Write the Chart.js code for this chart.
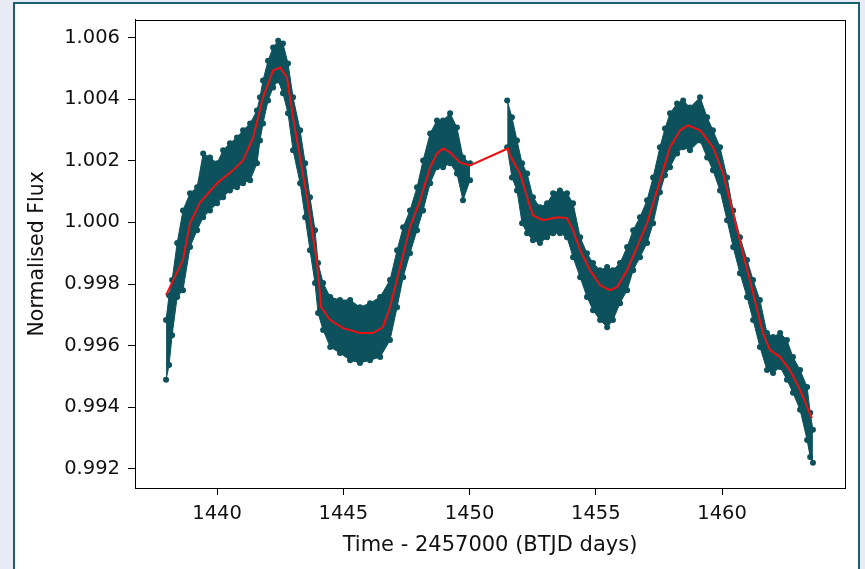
<!DOCTYPE html>
<html>
<head>
<meta charset="utf-8">
<script src="https://cdn.jsdelivr.net/npm/chart.js@4"></script>
<style>
    html, body { margin: 0; padding: 0; background: #e8ebf6; }
    body { width: 865px; height: 569px; position: relative; overflow: hidden; }
    #panel {
        position: absolute; left: 13px; top: 2px; width: 843px; height: 580px;
        background: #ffffff; border: 2px solid #17606e;
    }
    #wrap { position: absolute; left: 0; top: 0; width: 865px; height: 569px; }
</style>
</head>
<body>
<div id="panel"></div>
<div id="wrap"><canvas id="chart" width="865" height="569"></canvas></div>
<script>
const bandTime = [
    1437.98, 1438.10, 1438.22, 1438.42, 1438.65, 1438.93, 1439.21, 1439.45, 1439.72, 1440.00,
    1440.24, 1440.51, 1440.79, 1441.03, 1441.31, 1441.58, 1441.70, 1441.82, 1442.02, 1442.22,
    1442.42, 1442.61, 1442.81, 1443.01, 1443.29, 1443.49, 1443.68, 1443.88, 1444.00, 1444.20,
    1444.48, 1444.87, 1445.27, 1445.66, 1446.06, 1446.46, 1446.85, 1447.13, 1447.37, 1447.64,
    1447.92, 1448.16, 1448.44, 1448.71, 1448.95, 1449.23, 1449.50, 1449.74, 1450.02,
    1451.49, 1451.68, 1451.88, 1452.08, 1452.28, 1452.51, 1452.79, 1453.07, 1453.31, 1453.58,
    1453.86, 1454.10, 1454.38, 1454.65, 1454.89, 1455.17, 1455.45, 1455.68, 1455.96, 1456.24,
    1456.48, 1456.75, 1457.03, 1457.27, 1457.54, 1457.74, 1457.94, 1458.22, 1458.46, 1458.73,
    1459.13, 1459.41, 1459.64, 1459.92, 1460.20, 1460.44, 1460.71, 1460.99, 1461.23, 1461.50,
    1461.78, 1462.02, 1462.30, 1462.57, 1462.81, 1463.09, 1463.37, 1463.49, 1463.60
];
const bandHigh = [
    0.99683, 0.99764, 0.99813, 0.99933, 1.00039, 1.00095, 1.00114, 1.00224, 1.00211, 1.00192,
    1.00234, 1.00257, 1.00276, 1.00299, 1.00321, 1.00363, 1.00406, 1.00461, 1.00525, 1.00568,
    1.00590, 1.00581, 1.00516, 1.00406, 1.00299, 1.00192, 1.00082, 0.99975, 0.99868, 0.99803,
    0.99758, 0.99748, 0.99748, 0.99725, 0.99738, 0.99758, 0.99813, 0.99910, 0.99984, 1.00039,
    1.00114, 1.00201, 1.00289, 1.00331, 1.00331, 1.00354, 1.00308, 1.00211, 1.00192,
    1.00396, 1.00341, 1.00266, 1.00192, 1.00159, 1.00082, 1.00049, 1.00062, 1.00095, 1.00104,
    1.00095, 1.00062, 0.99952, 0.99900, 0.99868, 0.99845, 0.99855, 0.99845, 0.99868, 0.99920,
    0.99975, 1.00017, 1.00072, 1.00146, 1.00244, 1.00305, 1.00354, 1.00386, 1.00396, 1.00373,
    1.00406, 1.00341, 1.00299, 1.00244, 1.00146, 1.00039, 0.99952, 0.99878, 0.99813, 0.99748,
    0.99641, 0.99628, 0.99641, 0.99618, 0.99563, 0.99521, 0.99466, 0.99382, 0.99327
];
const bandLow = [
    0.99489, 0.99537, 0.99634, 0.99758, 0.99780, 0.99920, 0.99975, 1.00017, 1.00039, 1.00062,
    1.00082, 1.00104, 1.00114, 1.00127, 1.00137, 1.00192, 1.00266, 1.00321, 1.00396, 1.00438,
    1.00461, 1.00419, 1.00354, 1.00234, 1.00127, 1.00017, 0.99910, 0.99803, 0.99706, 0.99651,
    0.99596, 0.99576, 0.99553, 0.99544, 0.99553, 0.99563, 0.99618, 0.99725, 0.99822, 0.99900,
    0.99975, 1.00039, 1.00127, 1.00179, 1.00179, 1.00192, 1.00159, 1.00072, 1.00137,
    1.00244, 1.00146, 1.00104, 0.99997, 0.99965, 0.99942, 0.99933, 0.99952, 0.99965, 0.99965,
    0.99952, 0.99887, 0.99822, 0.99758, 0.99715, 0.99683, 0.99660, 0.99683, 0.99738, 0.99780,
    0.99845, 0.99887, 0.99933, 0.99997, 1.00098, 1.00153, 1.00179, 1.00224, 1.00244, 1.00234,
    1.00266, 1.00211, 1.00169, 1.00104, 1.00007, 0.99920, 0.99835, 0.99758, 0.99683, 0.99596,
    0.99521, 0.99511, 0.99531, 0.99489, 0.99447, 0.99392, 0.99294, 0.99239, 0.99220
];

// smoothed trend (red line)
const trendTime = [
    1437.98, 1438.65, 1438.93, 1439.33, 1440.00, 1440.63, 1441.03, 1441.43, 1441.82, 1442.22,
    1442.50, 1442.77, 1443.01, 1443.56, 1443.96, 1444.06, 1444.12, 1444.48, 1444.99, 1445.66,
    1446.18, 1446.57, 1446.85, 1447.25, 1447.64, 1448.04, 1448.44, 1448.71, 1448.95, 1449.23,
    1449.62, 1450.02, 1451.52, 1451.60, 1452.00, 1452.28, 1452.51, 1452.91, 1453.47, 1453.86,
    1454.10, 1454.38, 1454.77, 1455.17, 1455.56, 1455.84, 1456.24, 1456.63, 1457.03, 1457.43,
    1457.94, 1458.34, 1458.65, 1459.13, 1459.64, 1460.04, 1460.44, 1460.83, 1461.23, 1461.62,
    1461.90, 1462.30, 1462.69, 1463.09, 1463.56
];
const trendFlux = [
    0.99764, 0.99878, 0.99997, 1.00065, 1.00127, 1.00169, 1.00201, 1.00276, 1.00406, 1.00493,
    1.00503, 1.00470, 1.00341, 1.00082, 0.99868, 0.99785, 0.99725, 0.99683, 0.99657, 0.99641,
    0.99641, 0.99660, 0.99725, 0.99855, 0.99984, 1.00072, 1.00179, 1.00224, 1.00240, 1.00227,
    1.00195, 1.00185, 1.00240, 1.00218, 1.00159, 1.00082, 1.00023, 1.00007, 1.00017, 1.00014,
    0.99975, 0.99910, 0.99845, 0.99796, 0.99780, 0.99790, 0.99845, 0.99920, 0.99997, 1.00104,
    1.00244, 1.00299, 1.00315, 1.00299, 1.00244, 1.00160, 1.00030, 0.99900, 0.99771, 0.99641,
    0.99586, 0.99563, 0.99520, 0.99456, 0.99365
];

const xTicks = [1440, 1445, 1450, 1455, 1460];
const yTicks = [0.992, 0.994, 0.996, 0.998, 1.000, 1.002, 1.004, 1.006];

const pointColour = "#0c515b";
const tickFont = { family: "DejaVu Sans", size: 19.5 };

// split the band where the observations have a gap
function bandSegments() {
    const segs = [];
    let cur = null;
    for (let i = 0; i < bandTime.length; i++) {
        if (!cur || bandTime[i] - bandTime[i - 1] > 1) {
            cur = { hi: [], lo: [] };
            segs.push(cur);
        }
        cur.hi.push({ x: bandTime[i], y: bandHigh[i] });
        cur.lo.push({ x: bandTime[i], y: bandLow[i] });
    }
    return segs;
}

const datasets = [
    {
        label: "trend",
        data: trendTime.map((t, i) => ({ x: t, y: trendFlux[i] })),
        borderColor: "#ee1111",
        borderWidth: 2,
        pointRadius: 0,
        fill: false,
        order: 0,
    },
];
for (const seg of bandSegments()) {
    const common = {
        borderColor: pointColour,
        backgroundColor: pointColour,
        borderWidth: 1,
        pointRadius: 3,
        pointBorderWidth: 0,
        pointBackgroundColor: pointColour,
        order: 1,
    };
    datasets.push({ ...common, label: "hi", data: seg.hi, fill: false });
    datasets.push({ ...common, label: "lo", data: seg.lo, fill: "-1" });
}

const frame = {
    id: "frame",
    afterDraw(chart) {
        const { ctx, chartArea: a } = chart;
        ctx.save();
        ctx.strokeStyle = "#000";
        ctx.lineWidth = 1;
        ctx.strokeRect(Math.round(a.left) + 0.5, Math.round(a.top) + 0.5,
            Math.round(a.right - a.left), Math.round(a.bottom - a.top));
        ctx.restore();
    },
};

new Chart(document.getElementById("chart").getContext("2d"), {
    type: "line",
    data: { datasets },
    options: {
        responsive: false,
        animation: false,
        layout: { padding: { left: 15, right: 20, top: 19, bottom: 11 } },
        plugins: {
            legend: { display: false },
            tooltip: { enabled: false },
        },
        scales: {
            x: {
                type: "linear",
                min: 1436.75,
                max: 1464.87,
                afterBuildTicks: (s) => { s.ticks = xTicks.map((v) => ({ value: v })); },
                afterFit: (s) => { s.height = 70; },
                ticks: {
                    font: tickFont, color: "#111", padding: 7, maxRotation: 0,
                    autoSkip: false, callback: (v) => String(v),
                },
                grid: { drawOnChartArea: false, drawTicks: true, tickLength: 7, color: "#000", lineWidth: 1 },
                border: { display: true, color: "#000", width: 1 },
                title: {
                    display: true, text: "Time - 2457000 (BTJD days)",
                    font: { family: "DejaVu Sans", size: 21 }, color: "#111",
                    padding: { top: 3, bottom: 0 },
                },
            },
            y: {
                min: 0.99138,
                max: 1.00658,
                afterBuildTicks: (s) => { s.ticks = yTicks.map((v) => ({ value: v })); },
                afterFit: (s) => { s.width = 120; },
                ticks: {
                    font: tickFont, color: "#111", padding: 8,
                    autoSkip: false, callback: (v) => v.toFixed(3),
                },
                grid: { drawOnChartArea: false, drawTicks: true, tickLength: 7, color: "#000", lineWidth: 1 },
                border: { display: true, color: "#000", width: 1 },
                title: {
                    display: true, text: "Normalised Flux",
                    font: { family: "DejaVu Sans", size: 20.5 }, color: "#111",
                    padding: { top: 10, bottom: 0 },
                },
            },
        },
    },
    plugins: [frame],
});
</script>
</body>
</html>
